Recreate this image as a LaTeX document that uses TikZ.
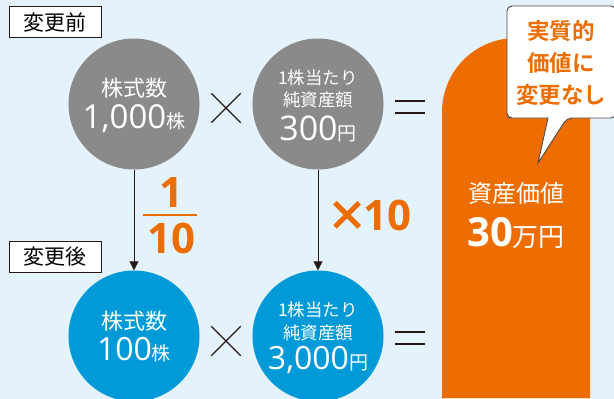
\documentclass[tikz,border=0pt]{standalone}
\usepackage{fontspec}
\setmainfont{Noto Sans CJK JP}[BoldFont={Noto Sans CJK JP Bold}]
\newfontfamily\numf{Open Sans}
\newfontfamily\xbold{Noto Sans CJK JP Bold}[FakeBold=2.5]
\usetikzlibrary{arrows.meta,shapes.misc}
\definecolor{bgc}{HTML}{E4F2FB}
\definecolor{grayc}{HTML}{8A8A8A}
\definecolor{bluec}{HTML}{009AD8}
\definecolor{orangec}{HTML}{ED6D00}
\definecolor{darkc}{HTML}{231815}
\tikzset{
  circ/.style={circle,minimum size=131pt,inner sep=0pt,text=white,align=center},
  lbl/.style={draw=darkc,line width=0.8pt,fill=white,minimum width=92pt,minimum height=31pt,inner sep=0pt,font=\fontsize{21}{24}\selectfont},
  xop/.style={cross out,draw=darkc,line width=1.3pt,minimum size=28pt,inner sep=0pt},
  arr/.style={draw=darkc,line width=0.9pt,-{Triangle[length=9pt,width=9pt]}},
  orng/.style={text=orangec},
  big/.style={font=\numf\bfseries\fontsize{42}{42}\selectfont},
}
\begin{document}
\begin{tikzpicture}[x=1pt,y=-1pt]
\fill[bgc] (0,0) rectangle (614,399);
\useasboundingbox (0,0) rectangle (614,399);
% labels
\node[lbl] (before) at (55,22) {変更前};
\node[lbl] (after) at (55,257) {変更後};
% circles
\node[circ,fill=grayc] (g1) at (134,104) {};
\node[circ,fill=grayc] (g2) at (318,104) {};
\node[circ,fill=bluec] (b1) at (134,336) {};
\node[circ,fill=bluec] (b2) at (318,336) {};
% circle texts
\node[text=white,font=\fontsize{22}{24}\selectfont] (g1a) at (134,88) {株式数};
\node[text=white] (g1b) at (134,119) {{\numf\fontsize{33}{33}\selectfont 1,000}\fontsize{19}{20}\selectfont 株};
\node[text=white,font=\fontsize{17.5}{20}\selectfont] (g2a) at (318,78) {1株当たり};
\node[text=white,font=\fontsize{17.5}{20}\selectfont] (g2b) at (318,100) {純資産額};
\node[text=white] (g2c) at (318,129) {{\numf\fontsize{34}{34}\selectfont 300}\fontsize{19}{20}\selectfont 円};
\node[text=white,font=\fontsize{22}{24}\selectfont] (b1a) at (134,321) {株式数};
\node[text=white] (b1b) at (134,350) {{\numf\fontsize{32}{32}\selectfont 100}\fontsize{19}{20}\selectfont 株};
\node[text=white,font=\fontsize{17.5}{20}\selectfont] (b2a) at (318,310) {1株当たり};
\node[text=white,font=\fontsize{17.5}{20}\selectfont] (b2b) at (318,333) {純資産額};
\node[text=white] (b2c) at (318,360) {{\numf\fontsize{32}{32}\selectfont 3,000}\fontsize{19}{20}\selectfont 円};
% operators
\node[xop] (x1) at (226,108) {};
\node[xop] (x2) at (226,341) {};
\coordinate (e1) at (410,107);
\coordinate (e2) at (410,338);
\draw[darkc,line width=1.4pt] ([xshift=-15pt,yshift=-6pt]e1) -- ++(30,0) ([xshift=-15pt,yshift=6pt]e1) -- ++(30,0);
\draw[darkc,line width=1.4pt] ([xshift=-15pt,yshift=-6pt]e2) -- ++(30,0) ([xshift=-15pt,yshift=6pt]e2) -- ++(30,0);
% arrows
\draw[arr] (g1) -- (b1);
\draw[arr] (g2) -- (b2);
% fraction
\node[orng,big] (f1) at (171,193) {1};
\draw[orangec,line width=1.4pt] (143,215) -- (197,215);
\node[orng,big] (f2) at (171,238) {10};
\node[orng] (t10) at (369,215) {{\xbold\fontsize{40}{40}\selectfont ×}\kern-4pt{\numf\bfseries\fontsize{42}{42}\selectfont 10}};
% pill
\fill[orangec] (442,398) -- (442,112) arc[start angle=180,end angle=360,radius=74] -- (590,398) -- cycle;
\node[text=white,font=\fontsize{24}{26}\selectfont] (pa) at (516,193) {資産価値};
\node[text=white] (pb) at (516,233) {{\numf\bfseries\fontsize{40}{40}\selectfont 30}\fontsize{26}{26}\selectfont 万円};
% bubble
\draw[darkc!80,line width=0.9pt,fill=white,rounded corners=5pt]
  (548,118) -- (512,118) -- (507,118) -- (507,6) -- (616,6) -- (616,118) -- (567,118) [sharp corners] -- (538,163) -- cycle;
\node[orng,font=\bfseries\fontsize{22.5}{32}\selectfont,align=center] (bub) at (561,63) {実質的\\価値に\\変更なし};
\end{tikzpicture}
\end{document}
